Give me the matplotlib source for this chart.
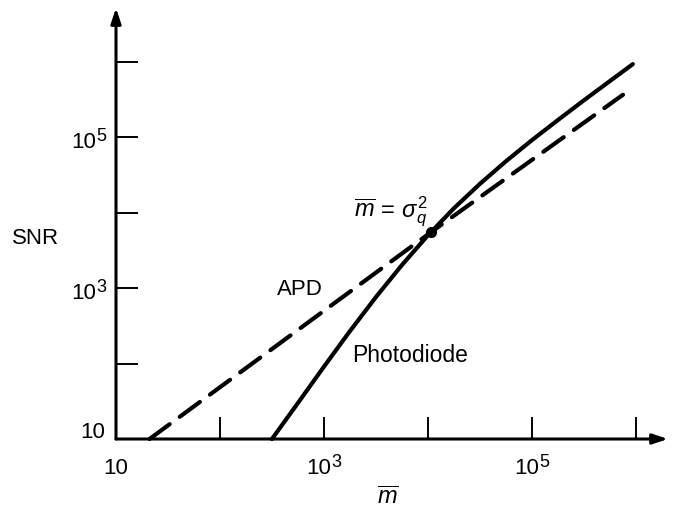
import numpy as np
import matplotlib
matplotlib.use("Agg")
import matplotlib.pyplot as plt
from matplotlib.ticker import NullLocator

plt.rcParams['font.family'] = ['Liberation Sans', 'DejaVu Sans']
plt.rcParams['mathtext.fontset'] = 'custom'
plt.rcParams['mathtext.rm'] = 'Liberation Sans'
plt.rcParams['mathtext.it'] = 'Liberation Sans:italic'

# photodiode curve
pd_m = [316, 562, 1000, 1778, 3162, 5623, 10000, 17780, 31620, 56230,
        100000, 177800, 316200, 562300, 933000]
pd_snr = [10, 30, 91, 269, 760, 2020, 5000, 11400, 24000, 47800,
          91000, 168000, 307000, 552000, 924000]

# APD line
apd_m = [21, 10700, 750000]
apd_snr = [10, 5500, 363000]

# crossing point m = sigma_q^2
cross_m = 10700
cross_snr = 5500

x_ticks = [10, 1e2, 1e3, 1e4, 1e5, 1e6]
y_ticks = [10, 1e2, 1e3, 1e4, 1e5, 1e6]
# tick value -> (base, exponent)
x_labels = {10: ("10", ""), 1e3: ("10", "3"), 1e5: ("10", "5")}
y_labels = {10: ("10", ""), 1e3: ("10", "3"), 1e5: ("10", "5")}

W, H = 673, 510
fig = plt.figure(figsize=(W / 100, H / 100), dpi=100)
fig.patch.set_facecolor('white')
ax = fig.add_axes([116 / W, 70 / H, 552 / W, 431 / H])
ax.set_xscale('log')
ax.set_yscale('log')
ax.set_xlim(10, 10 ** 6.308)
ax.set_ylim(10, 10 ** 6.709)

for s in ax.spines.values():
    s.set_visible(False)

arrow = dict(arrowstyle='-|>,head_length=0.9,head_width=0.3', lw=2.2, color='black',
             shrinkA=0, shrinkB=0)
ax.annotate('', xy=(1, 0), xytext=(0, 0), xycoords='axes fraction', arrowprops=arrow)
ax.annotate('', xy=(0, 1), xytext=(0, 0), xycoords='axes fraction', arrowprops=arrow)

ax.set_xticks(x_ticks)
ax.set_yticks(y_ticks)
ax.xaxis.set_minor_locator(NullLocator())
ax.yaxis.set_minor_locator(NullLocator())
ax.set_xticklabels([])
ax.set_yticklabels([])
ax.tick_params(which='major', direction='in', length=16, width=1.4, color='black')

# tick labels: "10" plus a large raised exponent, as in the original
for v, (base, exp) in x_labels.items():
    if exp:
        ax.annotate(base, xy=(v, 0), xycoords=('data', 'axes fraction'), xytext=(5, -24.5),
                    textcoords='offset points', ha='right', va='baseline', fontsize=16)
        ax.annotate(exp, xy=(v, 0), xycoords=('data', 'axes fraction'), xytext=(5.3, -19.5),
                    textcoords='offset points', ha='left', va='baseline', fontsize=13)
    else:
        ax.annotate(base, xy=(v, 0), xycoords=('data', 'axes fraction'), xytext=(0, -24.5),
                    textcoords='offset points', ha='center', va='baseline', fontsize=16)
for v, (base, exp) in y_labels.items():
    if exp:
        ax.annotate(exp, xy=(0, v), xycoords=('axes fraction', 'data'), xytext=(-7, -2),
                    textcoords='offset points', ha='right', va='baseline', fontsize=13)
        ax.annotate(base, xy=(0, v), xycoords=('axes fraction', 'data'), xytext=(-14.5, -7),
                    textcoords='offset points', ha='right', va='baseline', fontsize=16)
    else:
        ax.annotate(base, xy=(0, v), xycoords=('axes fraction', 'data'), xytext=(-8, 1.5),
                    textcoords='offset points', ha='right', va='baseline', fontsize=16)

ax.plot(pd_m, pd_snr, color='black', lw=3, solid_capstyle='round',
        solid_joinstyle='round', clip_on=False)
ax.plot(apd_m, apd_snr, color='black', lw=3, dashes=(6.0, 3.0),
        dash_capstyle='round', clip_on=False)
ax.plot([cross_m], [cross_snr], 'o', color='black', ms=7)

fig.text(36 / W, 1 - 238 / H, "SNR", ha='center', va='center', fontsize=16)
fig.text(388 / W, 1 - 498 / H, r"$\overline{m}$", ha='center', va='center', fontsize=17)
fig.text(300 / W, 1 - 290 / H, "APD", ha='center', va='center', fontsize=16)
fig.text(410 / W, 1 - 356 / H, "Photodiode", ha='center', va='center', fontsize=16.5)
fig.text(391 / W, 1 - 217 / H, r"$\overline{m}\,=\,\sigma_q^2$", ha='center', va='baseline',
         fontsize=17)

fig.savefig("out.png", dpi=100, facecolor='white')
